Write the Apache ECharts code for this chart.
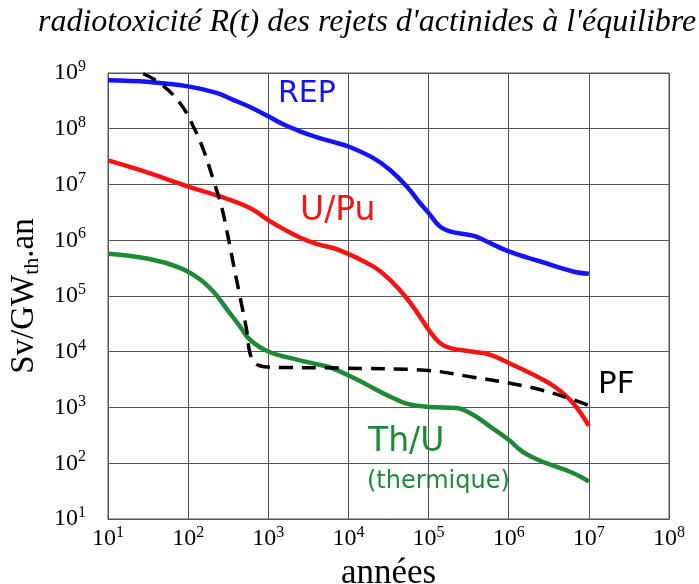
<!DOCTYPE html>
<html>
<head>
<meta charset="utf-8">
<title>radiotoxicité</title>
<script src="https://cdn.jsdelivr.net/npm/echarts@6/dist/echarts.min.js"></script>
<style>
  html, body { margin: 0; padding: 0; background: #fff; }
  #chart { width: 699px; height: 584px; }
</style>
</head>
<body>
<div id="chart"></div>
<script>
// [années, Sv/GWth.an]
var rep = [
  [10, 7.4e8], [33, 6.9e8], [100, 5.75e8], [226, 4.4e8], [365, 3.3e8], [590, 2.45e8],
  [1000, 1.67e8], [1535, 1.2e8], [2480, 9.0e7], [4000, 7.1e7], [6440, 5.8e7],
  [1e4, 4.8e7], [2.03e4, 3.0e7], [3.28e4, 1.84e7], [5.32e4, 9.3e6], [7.76e4, 4.7e6],
  [1e5, 3.1e6], [1.38e5, 1.77e6], [1.84e5, 1.44e6], [3.59e5, 1.21e6], [4.79e5, 1.02e6],
  [1e6, 6.3e5], [2.43e6, 4.2e5], [6.34e6, 2.75e5], [1e7, 2.5e5]
];
var uPu = [
  [10, 2.7e7], [33, 1.6e7], [100, 9.2e6], [250, 6.1e6], [590, 3.8e6], [1000, 2.3e6],
  [1535, 1.6e6], [2480, 1.12e6], [4000, 8.6e5], [7800, 6.6e5], [2.03e4, 3.4e5],
  [3.28e4, 1.96e5], [5.32e4, 9.2e4], [7.76e4, 4.3e4], [1e5, 2.5e4], [1.38e5, 1.44e4],
  [1.84e5, 1.17e4], [3.59e5, 1.0e4], [5.8e5, 8.9e3], [1e6, 6.3e3], [1.5e6, 4.8e3],
  [2.43e6, 3.4e3], [3.94e6, 2.24e3], [6.34e6, 1.2e3], [1e7, 470]
];
var thU = [
  [10, 5.7e5], [33, 4.6e5], [79, 3.2e5], [140, 2.0e5], [206, 1.2e5], [302, 5.9e4],
  [443, 2.85e4], [590, 1.64e4], [1000, 1.01e4], [2480, 7.0e3], [4000, 6.0e3],
  [6440, 5.0e3], [1.26e4, 3.2e3], [2.03e4, 2.24e3], [3.28e4, 1.58e3],
  [5.32e4, 1.17e3], [1e5, 1.02e3], [2.23e5, 980], [3.59e5, 740], [5.8e5, 460],
  [1e6, 263], [1.5e6, 160], [2.43e6, 112], [6.34e6, 67], [1e7, 47]
];
var pf = [
  [27.5, 9.7e8], [44.5, 6.6e8], [79, 2.9e8], [116, 1.1e8], [155, 4.2e7], [206, 1.22e7],
  [261, 4.0e6], [302, 1.55e6], [365, 3.9e5], [443, 9.8e4], [536, 2.48e4], [590, 9.5e3],
  [681, 6.3e3], [785, 5.6e3], [1000, 5.3e3], [7800, 5.1e3], [1e5, 4.6e3],
  [3.59e5, 3.5e3], [1e6, 2.75e3], [2.43e6, 2.1e3], [6.34e6, 1.38e3], [1e7, 1.08e3]
];

var serif = '"Liberation Serif", "Times New Roman", serif';
var hand = '"DejaVu Sans", sans-serif';

function powLabel(v) {
  return '{b|10}{s|' + Math.round(Math.log10(v)) + '}';
}
var powRich = {
  b: { fontFamily: serif, fontSize: 24, color: '#000', lineHeight: 28 },
  s: { fontFamily: serif, fontSize: 16, color: '#000', lineHeight: 16, verticalAlign: 'top' }
};

var myChart = echarts.init(document.getElementById('chart'));
myChart.setOption({
  animation: false,
  backgroundColor: '#fff',
  title: {
    text: "radiotoxicité R(t) des rejets d'actinides à l'équilibre",
    left: 33,
    top: 2,
    textStyle: { fontFamily: serif, fontStyle: 'italic', fontWeight: 'normal', fontSize: 32, color: '#000' }
  },
  grid: {
    left: 108, right: 30, top: 73, bottom: 65,
    outerBoundsMode: 'none',
    show: true, borderColor: '#555', borderWidth: 1
  },
  xAxis: {
    type: 'log',
    logBase: 10,
    min: 10,
    max: 1e8,
    name: 'années',
    nameLocation: 'middle',
    nameGap: 35,
    nameTextStyle: { fontFamily: serif, fontSize: 35, color: '#000' },
    axisLine: { lineStyle: { color: '#555' } },
    axisTick: { show: false },
    splitLine: { show: true, lineStyle: { color: '#555', width: 1 } },
    axisLabel: { margin: 6, formatter: powLabel, rich: powRich }
  },
  yAxis: {
    type: 'log',
    logBase: 10,
    min: 10,
    max: 1e9,
    name: '{a|Sv/GW}{t|th}{a|.an}',
    nameLocation: 'middle',
    nameRotate: 90,
    nameGap: 64,
    nameTextStyle: {
      fontFamily: serif, fontSize: 33, color: '#000',
      rich: {
        a: { fontFamily: serif, fontSize: 33, color: '#000', lineHeight: 38 },
        t: { fontFamily: serif, fontSize: 22, color: '#000', lineHeight: 22, verticalAlign: 'bottom' }
      }
    },
    axisLine: { lineStyle: { color: '#555' } },
    axisTick: { show: false },
    splitLine: { show: true, lineStyle: { color: '#555', width: 1 } },
    axisLabel: { margin: 22, formatter: powLabel, rich: powRich }
  },
  series: [
    {
      name: 'REP', type: 'line', data: rep, smooth: 0.4, showSymbol: false,
      lineStyle: { color: '#1414f5', width: 4.5 }
    },
    {
      name: 'U/Pu', type: 'line', data: uPu, smooth: 0.4, showSymbol: false,
      lineStyle: { color: '#f51414', width: 4.5 }
    },
    {
      name: 'Th/U', type: 'line', data: thU, smooth: 0.4, showSymbol: false,
      lineStyle: { color: '#1e8a36', width: 4.5 }
    },
    {
      name: 'PF', type: 'line', data: pf, smooth: 0.4, showSymbol: false,
      lineStyle: { color: '#000', width: 3.5, type: [14, 9] }
    }
  ],
  graphic: [
    { type: 'text', left: 278, top: 79, style: { text: 'REP', font: '30px ' + hand, fill: '#1414f5' } },
    { type: 'text', left: 300, top: 195, style: { text: 'U/Pu', font: '33px ' + hand, fill: '#f51414' } },
    { type: 'text', left: 368, top: 426, style: { text: 'Th/U', font: '33px ' + hand, fill: '#1e8a36' } },
    { type: 'text', left: 367, top: 470, style: { text: '(thermique)', font: '24px ' + hand, fill: '#1e8a36' } },
    { type: 'text', left: 598, top: 369, style: { text: 'PF', font: '31px ' + hand, fill: '#000' } }
  ]
});
</script>
</body>
</html>
